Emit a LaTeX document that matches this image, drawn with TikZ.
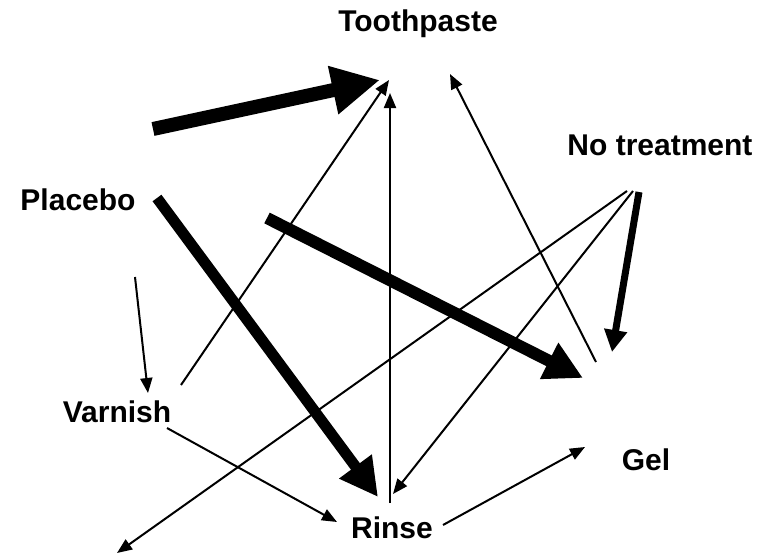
\documentclass[tikz,border=0pt]{standalone}
\usepackage{fontspec}
\setmainfont{Liberation Sans}
\usetikzlibrary{arrows.meta}
\tikzset{
  lbl/.style={font=\bfseries\fontsize{30}{36}\selectfont, anchor=base, inner sep=0pt},
  thinarr/.style={line width=2pt, -{Triangle[length=15pt,width=12pt]}},
  fatarr/.style={line width=#1pt, -{Triangle[length=38pt,width=38pt]}},
}
\begin{document}
\begin{tikzpicture}[x=1pt,y=-1pt]
\useasboundingbox (0,0) rectangle (774,554);
% treatment labels
\node[lbl] (tooth) at (418,31) {Toothpaste};
\node[lbl] (notreat) at (660,155) {No treatment};
\node[lbl] (placebo) at (78,210) {Placebo};
\node[lbl] (varnish) at (117,422) {Varnish};
\node[lbl] (gel) at (646,470) {Gel};
\node[lbl] (rinse) at (392,538) {Rinse};
% arrow ends
\coordinate (tp-a) at (380,80);
\coordinate (tp-b) at (389,80);
\coordinate (tp-c) at (390,93);
\coordinate (tp-d) at (450,74);
\coordinate (nt-a) at (627,191);
\coordinate (nt-b) at (633,191);
\coordinate (nt-c) at (639,192);
\coordinate (pl-a) at (157,198);
\coordinate (pl-b) at (135,277);
\coordinate (pl-c) at (153,129);
\coordinate (va-a) at (181,385);
\coordinate (va-b) at (167,428);
\coordinate (va-c) at (148,393);
\coordinate (gl-a) at (596,362);
\coordinate (gl-b) at (583,378);
\coordinate (gl-c) at (612,352);
\coordinate (gl-d) at (585,447);
\coordinate (rn-a) at (390,503);
\coordinate (rn-b) at (393,494);
\coordinate (rn-c) at (378,497);
\coordinate (rn-d) at (337,522);
\coordinate (rn-e) at (443,525);
\coordinate (mid) at (267,218);
\coordinate (corner) at (117,553);
% thick arrows
\draw[line width=14pt, -{Triangle[length=48pt,width=46pt]}] (pl-c) -- (tp-a);
\draw[fatarr=11] (pl-a) -- (rn-c);
\draw[fatarr=12] (mid) -- (gl-b);
\draw[line width=7pt, -{Triangle[length=22pt,width=22pt]}] (nt-c) -- (gl-c);
% thin arrows
\draw[thinarr] (va-a) -- (tp-b);
\draw[thinarr] (rn-a) -- (tp-c);
\draw[thinarr] (gl-a) -- (tp-d);
\draw[thinarr] (nt-a) -- (corner);
\draw[thinarr] (nt-b) -- (rn-b);
\draw[thinarr] (pl-b) -- (va-c);
\draw[thinarr] (va-b) -- (rn-d);
\draw[thinarr] (rn-e) -- (gl-d);
\end{tikzpicture}
\end{document}
